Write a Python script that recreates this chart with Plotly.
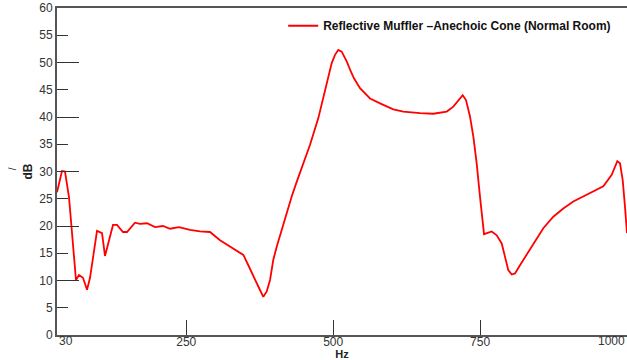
import plotly.graph_objects as go

freq_hz = [30, 38.5, 43.6, 50.4, 62.3, 67.4, 74.2, 81.1, 86.2, 98.1, 106.6, 111.7,
           125.3, 132.1, 142.3, 149.1, 162.7, 171.2, 183.2, 196.8, 210.4, 222.3,
           237.6, 256.3, 273.4, 290.4, 307.4, 330.0, 347.1, 355.6, 364.1, 372.6,
           381.1, 386.9, 392.5, 398.1, 403.9, 412.4, 420.9, 429.4, 437.9, 443.5,
           460.6, 474.7, 486.1, 491.7, 497.5, 503.1, 508.7, 514.5, 523.0, 529.8,
           535.4, 545.6, 562.7, 579.7, 602.3, 619.3, 636.3, 647.8, 670.4, 693.2,
           704.4, 713.0, 720.4, 726.0, 732.8, 738.5, 744.2, 749.8, 756.7, 769.8,
           778.3, 786.8, 792.4, 798.0, 803.8, 809.4, 817.9, 829.3, 843.4, 857.6,
           874.6, 891.6, 908.6, 931.4, 959.7, 974.0, 983.5, 988.1, 992.7, 996.6,
           1000]
level_db = [26.2, 30.1, 30.0, 25.3, 10.1, 11.0, 10.5, 8.3, 10.5, 19.1, 18.7, 14.5,
            20.2, 20.2, 18.9, 18.9, 20.6, 20.4, 20.5, 19.8, 20.0, 19.5,
            19.8, 19.3, 19.0, 18.9, 17.4, 15.9, 14.7, 12.8, 10.7, 8.9,
            7.0, 8.0, 10.1, 13.8, 16.2, 19.3, 22.3, 25.4, 28.1, 29.7,
            34.9, 39.8, 44.7, 47.4, 49.9, 51.4, 52.3, 52.0, 50.2, 48.4,
            47.1, 45.3, 43.4, 42.5, 41.4, 41.0, 40.8, 40.7, 40.6, 41.0,
            41.9, 43.1, 44.0, 43.1, 40.1, 36.4, 31.5, 25.4, 18.5, 19.0,
            18.3, 16.8, 14.4, 11.9, 11.1, 11.3, 12.8, 14.7, 17.1, 19.6,
            21.7, 23.2, 24.5, 25.7, 27.3, 29.4, 31.9, 31.5, 28.4, 23.5,
            18.7]

series_name = "Reflective Muffler \u2013Anechoic Cone (Normal Room)"
x_tick_vals = [250, 500, 750]
x_tick_text = ["250", "500", "750"]
x_edge_labels = [(30, "30", "left"), (1000, "1000", "right")]
y_label_vals = list(range(0, 61, 5))
y_major_vals = [10, 20, 30, 40, 50]

FONT = "Liberation Sans, Arial, sans-serif"

fig = go.Figure()
fig.add_trace(go.Scatter(
    x=freq_hz, y=level_db, mode="lines", name=series_name,
    line=dict(color="#ff0000", width=1.8),
))
# empty trace to activate the overlay axis carrying the long ticks
fig.add_trace(go.Scatter(x=[], y=[], yaxis="y2", showlegend=False, hoverinfo="skip"))

fig.update_layout(
    width=627, height=360,
    margin=dict(l=57, r=0, t=8, b=25),
    paper_bgcolor="white", plot_bgcolor="white",
    font=dict(family=FONT, size=12, color="#333333"),
    showlegend=True,
    legend=dict(
        x=0.981, xanchor="right", y=0.99, yanchor="top",
        bgcolor="rgba(0,0,0,0)", itemwidth=30,
        font=dict(family=FONT, size=12, color="#111111", weight="bold"),
    ),
    xaxis=dict(
        range=[30, 1000], showgrid=False, zeroline=False,
        showline=True, linecolor="#555555", linewidth=2, mirror=True,
        tickvals=x_tick_vals, ticktext=x_tick_text,
        ticks="inside", ticklen=15, tickcolor="#333333", tickwidth=1,
        ticklabelstandoff=-5,
        tickfont=dict(family=FONT, size=12, color="#333333"),
        title=dict(text="<b>Hz</b>", standoff=2,
                   font=dict(family=FONT, size=11, color="#222222")),
    ),
    yaxis=dict(
        range=[0, 60], showgrid=False, zeroline=False,
        showline=True, linecolor="#555555", linewidth=2,
        tickvals=y_label_vals,
        ticks="inside", ticklen=11, tickcolor="#333333", tickwidth=1,
        tickfont=dict(family=FONT, size=12, color="#333333"),
        title=dict(text="<b>dB</b>", standoff=4,
                   font=dict(family=FONT, size=12, color="#222222")),
    ),
    yaxis2=dict(
        range=[0, 60], overlaying="y", side="left", showgrid=False,
        zeroline=False, showline=False, tickvals=y_major_vals,
        showticklabels=False, ticks="inside", ticklen=22,
        tickcolor="#333333", tickwidth=1,
    ),
)

for xv, txt, anchor in x_edge_labels:
    fig.add_annotation(x=xv, y=0, xref="x", yref="paper", text=txt,
                       xanchor=anchor, yanchor="top", yshift=3, showarrow=False,
                       font=dict(family=FONT, size=12, color="#333333"))

fig.add_annotation(x=-0.079, y=0.51, xref="paper", yref="paper", text="/",
                   xanchor="center", yanchor="middle",
                   textangle=-90, showarrow=False,
                   font=dict(family=FONT, size=10, color="#222222"))

fig.write_html("out.html")
